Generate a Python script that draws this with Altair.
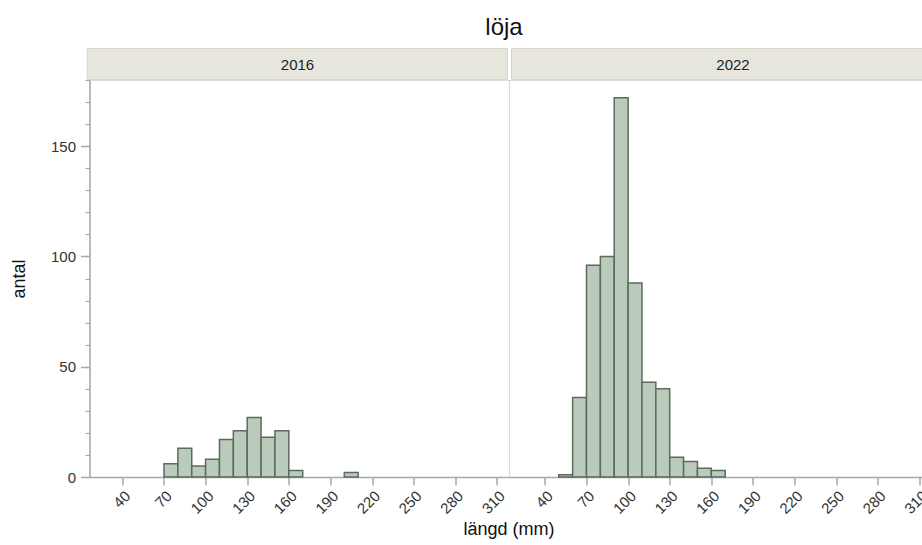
import altair as alt
import pandas as pd

# ---------------- data ----------------
title_text = "löja"
x_title = "längd (mm)"
y_title = "antal"
years = ["2016", "2022"]
bin_width = 10
bin_start_2016 = [70, 80, 90, 100, 110, 120, 130, 140, 150, 160, 200]
count_2016 = [6, 13, 5, 8, 17, 21, 27, 18, 21, 3, 2]
bin_start_2022 = [50, 60, 70, 80, 90, 100, 110, 120, 130, 140, 150, 160]
count_2022 = [1, 36, 96, 100, 172, 88, 43, 40, 9, 7, 4, 3]
x_ticks = [40, 70, 100, 130, 160, 190, 220, 250, 280, 310]
y_major = [0, 50, 100, 150]
y_minor = [0, 10, 20, 30, 40, 50, 60, 70, 80, 90, 100, 110, 120, 130, 140, 150, 160, 170, 180]

# ---------------- layout / style ----------------
PANEL_W = 420          # width of one panel (px)
GAP = 2.5              # gap between the panels (px)
H = 397
X0, X1 = 16.3, 319.1   # x domain of one panel
K = PANEL_W / (X1 - X0)            # px per mm
OFFSET = (PANEL_W + GAP) / K       # shift of second panel in data units
TOTAL_W = 922 - 89.5
XMAX = X0 + TOTAL_W / K
FONT = "Liberation Sans"
FILL = "#bacbbb"
STROKE = "#5c6b5d"
AXIS_GRAY = "#a9a9a9"
HEADER_FILL = "#e7e6dd"
HEADER_STROKE = "#d6d5c8"

df = pd.DataFrame({
    "year": [years[0]] * len(bin_start_2016) + [years[1]] * len(bin_start_2022),
    "start": bin_start_2016 + bin_start_2022,
    "count": count_2016 + count_2022,
})

tick_vals = x_ticks + [t + OFFSET for t in x_ticks]

xs = alt.Scale(domain=[X0, XMAX], nice=False, zero=False)
ys = alt.Scale(domain=[0, 180], nice=False)

x_axis = alt.Axis(values=tick_vals, labelAngle=-45, title=None, labelFontSize=15,
                  labelExpr=f"datum.value > {X1} ? round(datum.value - {OFFSET}) : round(datum.value)",
                  labelColor="#333333", tickSize=8, tickColor=AXIS_GRAY, tickWidth=1.5,
                  domainColor=AXIS_GRAY, domainWidth=1.5, grid=False, labelPadding=3,
                  labelFont=FONT, labelOverlap=False)
y_major_axis = alt.Axis(values=y_major, orient="left", title=y_title, titleFontSize=18,
                        titleFontWeight="normal", titleColor="#111111", titleFont=FONT,
                        titlePadding=22, labelFontSize=15, labelColor="#333333", labelFont=FONT,
                        tickSize=9, tickColor=AXIS_GRAY, tickWidth=1.5, domainColor=AXIS_GRAY,
                        domainWidth=1.5, grid=False, labelPadding=5)
y_minor_axis = alt.Axis(values=y_minor, orient="left", title=None, labels=False, domain=False,
                        tickSize=4.5, tickColor=AXIS_GRAY, tickWidth=1.2, grid=False)

base = alt.Chart(df).transform_calculate(
    pos=f"datum.start + (datum.year == '{years[1]}' ? {OFFSET} : 0)",
).transform_calculate(
    pos_end=f"datum.pos + {bin_width}", zero="0"
)

bars = base.mark_rect(fill=FILL, stroke=STROKE, strokeWidth=1.5).encode(
    x=alt.X("pos:Q", scale=xs, axis=x_axis),
    x2="pos_end:Q",
    y=alt.Y("count:Q", scale=ys, axis=y_major_axis),
    y2="zero:Q",
)
minor = base.mark_point(opacity=0).encode(
    y=alt.Y("count:Q", scale=ys, axis=y_minor_axis),
)

hdf = pd.DataFrame({"left": [years[0]], "right": [years[1]], "t": [title_text], "xt": [x_title]})
one = alt.Chart(hdf)

header_l = one.mark_rect(fill=HEADER_FILL, stroke=HEADER_STROKE, strokeWidth=1).encode(
    x=alt.value(-2.2), x2=alt.value(PANEL_W - 2.2), y=alt.value(-31.5), y2=alt.value(-0.5))
header_r = one.mark_rect(fill=HEADER_FILL, stroke=HEADER_STROKE, strokeWidth=1).encode(
    x=alt.value(PANEL_W + 2), x2=alt.value(TOTAL_W + 10), y=alt.value(-31.5), y2=alt.value(-0.5))
text_l = one.mark_text(font=FONT, fontSize=15, color="#222222", baseline="middle").encode(
    text="left:N", x=alt.value(208), y=alt.value(-15))
text_r = one.mark_text(font=FONT, fontSize=15, color="#222222", baseline="middle").encode(
    text="right:N", x=alt.value(643.5), y=alt.value(-15))
sep = one.mark_rule(color="#d9d9d9", strokeWidth=1.2).encode(
    x=alt.value(PANEL_W), y=alt.value(0), y2=alt.value(H))
ttl = one.mark_text(font=FONT, fontSize=24, color="#111111", baseline="alphabetic").encode(
    text="t:N", x=alt.value(414.5), y=alt.value(-45))
xt = one.mark_text(font=FONT, fontSize=18, color="#111111", baseline="alphabetic").encode(
    text="xt:N", x=alt.value(419.5), y=alt.value(455))

chart = alt.layer(
    header_l, header_r, sep, minor, bars, text_l, text_r, ttl, xt
).resolve_axis(y="independent").properties(
    width=TOTAL_W, height=H,
    padding={"left": 89.5, "top": 80, "right": 0, "bottom": 545 - 80 - H},
    autosize=alt.AutoSizeParams(type="none"),
).configure_view(stroke=None).configure(background="white")

chart.save("out.html", embed_options={"renderer": "svg", "actions": False})
